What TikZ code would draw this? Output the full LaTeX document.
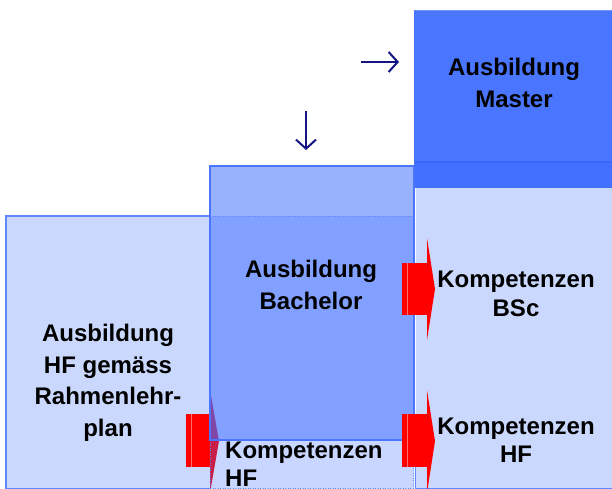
\documentclass[tikz,border=0pt]{standalone}
\usepackage{fontspec}
\setmainfont{Liberation Sans}
\usetikzlibrary{arrows.meta}
\definecolor{lightf}{RGB}{202,216,253}
\definecolor{lightborder}{RGB}{95,135,255}
\definecolor{basefill}{RGB}{62,110,255}
\definecolor{bachtop}{RGB}{152,178,254}
\definecolor{bachborder}{RGB}{74,118,255}
\definecolor{masterfill}{RGB}{74,118,255}
\definecolor{masterband}{RGB}{68,112,255}
\definecolor{masterline}{RGB}{60,104,250}
\definecolor{mastertop}{RGB}{120,150,255}
\definecolor{navyarrow}{RGB}{20,20,130}
\definecolor{redlight}{RGB}{255,110,110}
\tikzset{
  lbl/.style={align=center, inner sep=0pt, font=\fontsize{24}{31.5}\selectfont\bfseries},
  lbltwo/.style={align=center, inner sep=0pt, font=\fontsize{24}{28.5}\selectfont\bfseries},
  dotline/.style={lightborder, line width=1pt, dash pattern=on 1pt off 1.5pt},
  navyarr/.style={navyarrow, line width=2pt, -{Straight Barb[length=9pt,width=20pt,line width=2pt]}},
  redarrow/.style={fill=red, draw=none}
}
\begin{document}
\begin{tikzpicture}[x=1pt,y=-1pt]
\useasboundingbox (0,0) rectangle (612,489);
\clip (0,0) rectangle (612,489);
\fill[white] (0,0) rectangle (612,489);
% left column
\fill[lightf] (6,216) rectangle (210,495);
\draw[lightborder, line width=1.5pt] (6,495) -- (6,216) -- (210,216);
\draw[lightborder, line width=1pt] (6,488) -- (210,488);
% left red arrow (under middle column)
\fill[redarrow] (186,414) rectangle (211,467);
\fill[redarrow] (210,390) -- (219,441) -- (210,493) -- cycle;
\draw[redlight, line width=0.6pt] (191,414) -- (191,467);
% middle column
\fill[basefill, fill opacity=0.28] (210,440) rectangle (414,495);
\fill[basefill, fill opacity=0.65] (210,216) rectangle (414,440);
\fill[bachtop] (210,166) rectangle (414,216);
\draw[dotline] (210,216) -- (414,216);
\draw[dotline] (210,440) -- (210,489);
\draw[dotline] (413,440) -- (413,489);
\draw[dotline] (210,488) -- (414,488);
\draw[bachborder, line width=1.5pt] (210,166) rectangle (414,440);
% right column
\fill[masterfill] (414,10) rectangle (614,188);
\fill[masterband] (414,162) rectangle (614,188);
\draw[masterline, line width=1.2pt] (414,162) -- (614,162);
\draw[mastertop, line width=1pt] (414,10.5) -- (614,10.5);
\fill[lightf] (416,188) rectangle (614,495);
\draw[bachborder, line width=1.5pt] (414.5,10) -- (414.5,440);
\draw[lightborder, line width=1.5pt] (415.5,440) -- (415.5,495);
\draw[lightborder, line width=1pt] (416,488) -- (614,488);
% right red arrows
\fill[redarrow] (402,263) rectangle (428,315);
\fill[redarrow] (427,238) -- (435,289) -- (427,340) -- cycle;
\draw[redlight, line width=0.6pt] (407,263) -- (407,315);
\fill[redarrow] (402,414) rectangle (428,467);
\fill[redarrow] (427,390) -- (435,441) -- (427,493) -- cycle;
\draw[redlight, line width=0.6pt] (407,414) -- (407,467);
% navy arrows
\coordinate (dstart) at (306,111);
\coordinate (dend) at (306,150);
\coordinate (rstart) at (361,62);
\coordinate (rend) at (399,62);
\draw[navyarr] (dstart) -- (dend);
\draw[navyarr] (rstart) -- (rend);
% texts
\node[lbl] (master) at (514,83) {Ausbildung\\Master};
\node[lbl] (bach) at (311,285) {Ausbildung\\Bachelor};
\node[lbl] (hf) at (108,383) {Ausbildung\\HF gemäss\\Rahmenlehr-\\plan};
\node[lbltwo] (kbsc) at (516,294) {Kompetenzen\\BSc};
\node[lbltwo] (khf) at (516,440) {Kompetenzen\\HF};
\node[lbltwo, align=left, anchor=north west] (khfmid) at (225,441.5) {Kompetenzen\\HF};
\end{tikzpicture}
\end{document}
